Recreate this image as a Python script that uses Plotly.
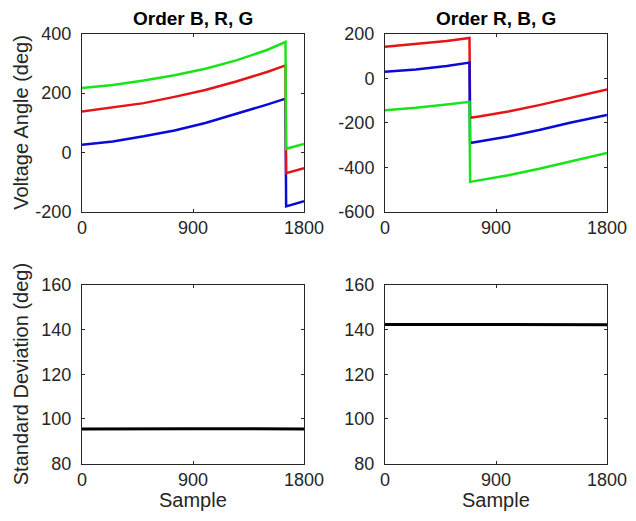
import plotly.graph_objects as go

# ---------------- data ----------------
samples_brg = [0, 250, 500, 750, 1000, 1250, 1500, 1650, 1655, 1800]
blue_brg = [26, 37, 54, 74, 99, 129, 161, 181, -182, -165]
red_brg = [138, 152, 166, 187, 210, 239, 271, 293, -70, -53]
green_brg = [217, 227, 242, 260, 282, 310, 345, 372, 12, 28]

samples_rbg = [0, 250, 500, 685, 690, 750, 1000, 1250, 1500, 1800]
red_rbg = [141, 153, 167, 181, -178, -173, -150, -121, -89, -51]
blue_rbg = [29, 39, 55, 70, -291, -286, -262, -233, -200, -165]
green_rbg = [-144, -133, -118, -106, -466, -460, -436, -407, -374, -336]

samples_std = [0, 450, 900, 1350, 1800]
std_brg = [95.5, 95.4, 95.6, 95.6, 95.5]
std_rbg = [142.3, 142.2, 142.4, 142.3, 142.2]

x_ticks = [0, 900, 1800]
y_ticks_brg = [-200, 0, 200, 400]
y_ticks_rbg = [-600, -400, -200, 0, 200]
y_ticks_std = [80, 100, 120, 140, 160]

titles = ["Order B, R, G", "Order R, B, G"]
ylabel_top = "Voltage Angle (deg)"
ylabel_bottom = "Standard Deviation (deg)"
xlabel = "Sample"

# ---------------- layout helpers ----------------
# The page body has an 8px margin, so the figure is made 16px smaller than
# the window and all positions below are given in window pixels.
VW, VH = 636, 521
OFF = 8
W, H = VW - 2 * OFF, VH - 2 * OFF
FONT = "Liberation Sans, Arial, Helvetica, sans-serif"
AX = "#262626"
BLUE = "rgb(10,10,215)"
RED = "rgb(230,20,20)"
GREEN = "rgb(25,228,25)"


def fx(p):
    return (p - OFF) / W


def fy(p):
    return 1 - (p - OFF) / H


cols = [(82, 304), (385, 607)]
rows = [(33.7, 211.7), (285, 463.5)]

fig = go.Figure()


def add_line(x, y, color, ax, width=2.5):
    fig.add_trace(go.Scatter(x=x, y=y, mode="lines",
                             line=dict(color=color, width=width),
                             xaxis="x" + ax, yaxis="y" + ax,
                             showlegend=False, hoverinfo="skip"))


# order of drawing follows the title order
add_line(samples_brg, blue_brg, BLUE, "")
add_line(samples_brg, red_brg, RED, "")
add_line(samples_brg, green_brg, GREEN, "")

add_line(samples_rbg, red_rbg, RED, "2")
add_line(samples_rbg, blue_rbg, BLUE, "2")
add_line(samples_rbg, green_rbg, GREEN, "2")

add_line(samples_std, std_brg, "black", "3", width=3)
add_line(samples_std, std_rbg, "black", "4", width=3)

axis_common = dict(showline=True, linecolor=AX, linewidth=1, mirror="ticks",
                   ticks="inside", ticklen=3, tickcolor=AX, showgrid=False,
                   zeroline=False, automargin=False,
                   tickfont=dict(family=FONT, size=18, color="#262626"))

specs = [
    ("", cols[0], rows[0], [-200, 400], y_ticks_brg),
    ("2", cols[1], rows[0], [-600, 200], y_ticks_rbg),
    ("3", cols[0], rows[1], [80, 160], y_ticks_std),
    ("4", cols[1], rows[1], [80, 160], y_ticks_std),
]

layout = dict(template="none", width=W, height=H,
              margin=dict(l=0, r=0, t=0, b=0, pad=0, autoexpand=False),
              paper_bgcolor="white", plot_bgcolor="white", showlegend=False)

for suffix, (x0, x1), (y0, y1), yr, yt in specs:
    layout["xaxis" + suffix] = dict(
        axis_common, domain=[fx(x0), fx(x1)], range=[0, 1800],
        tickvals=x_ticks, ticktext=[str(v) for v in x_ticks],
        anchor="y" + suffix, ticklabelstandoff=0)
    layout["yaxis" + suffix] = dict(
        axis_common, domain=[fy(y1), fy(y0)], range=yr,
        tickvals=yt, ticktext=[str(v) for v in yt],
        anchor="x" + suffix, ticklabelstandoff=6)

fig.update_layout(**layout)

annotations = []
for i, t in enumerate(titles):
    cx = (cols[i][0] + cols[i][1]) / 2
    annotations.append(dict(text="<b>" + t + "</b>", x=fx(cx), y=fy(18.5),
                            xref="paper", yref="paper", xanchor="center",
                            yanchor="middle", showarrow=False,
                            font=dict(family=FONT, size=19, color="black")))
for r, lab in zip(rows, [ylabel_top, ylabel_bottom]):
    cy = (r[0] + r[1]) / 2
    annotations.append(dict(text=lab, x=fx(21), y=fy(cy), xref="paper",
                            yref="paper", xanchor="center", yanchor="middle",
                            textangle=-90, showarrow=False,
                            font=dict(family=FONT, size=20, color="#262626")))
for c in cols:
    cx = (c[0] + c[1]) / 2
    annotations.append(dict(text=xlabel, x=fx(cx), y=fy(500), xref="paper",
                            yref="paper", xanchor="center", yanchor="middle",
                            showarrow=False,
                            font=dict(family=FONT, size=20, color="#262626")))
fig.update_layout(annotations=annotations)

fig.write_html("out.html")
